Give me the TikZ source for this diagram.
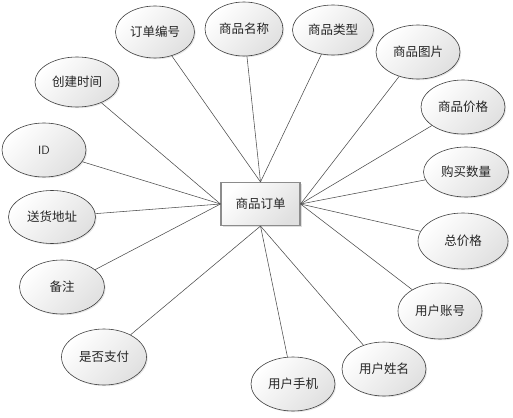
\documentclass[tikz,border=0pt]{standalone}
\usepackage{fontspec}
\newfontfamily\cjk{Noto Sans CJK SC}
\usepackage{tikz}
\usetikzlibrary{shapes,shadows}
\tikzstyle{attr} = [ellipse, draw=black!75, line width=0.6pt, top color=white, bottom color=black!12, shading angle=45, minimum width=84pt, minimum height=54pt, inner sep=0pt, text=black!85, font=\cjk\fontsize{12.5}{14}\selectfont, drop shadow={opacity=0.2, shadow xshift=1.2pt, shadow yshift=-1.2pt}]
\tikzstyle{entity} = [rectangle, draw=black!45, line width=1.1pt, top color=white, bottom color=black!12, shading angle=45, minimum width=79pt, minimum height=43pt, inner sep=0pt, text=black!85, font=\cjk\fontsize{12.5}{14}\selectfont, drop shadow={opacity=0.25, shadow xshift=1.5pt, shadow yshift=-1.5pt}]
\tikzstyle{link} = [draw=black!70, line width=0.55pt]

\begin{document}
\begin{tikzpicture}[x=1pt,y=-1pt]
\useasboundingbox (0,0) rectangle (513,417);

\node[entity] (order) at (260.5,204) {商品订单};

% attributes, clockwise from the top
\node[attr, minimum width=79pt, minimum height=52pt] (orderno) at (155,32) {订单编号};
\node[attr, minimum width=78pt] (gname) at (244,29) {商品名称};
\node[attr, minimum width=81pt, minimum height=50pt] (gtype) at (333,30) {商品类型};
\node[attr] (gpic) at (418,52) {商品图片};
\node[attr] (gprice) at (463,107) {商品价格};
\node[attr, minimum width=85pt, minimum height=50pt] (qty) at (466,172) {购买数量};
\node[attr, minimum width=90pt, minimum height=56pt] (total) at (463,241) {总价格};
\node[attr, minimum height=56pt] (uacc) at (440,311) {用户账号};
\node[attr] (uname) at (384,369) {用户姓名};
\node[attr] (uphone) at (293,384) {用户手机};
\node[attr, minimum width=85pt, minimum height=56pt] (paid) at (104,357) {是否支付};
\node[attr, minimum width=85pt] (remark) at (62,287) {备注};
\node[attr, minimum width=87pt, minimum height=53pt] (addr) at (52,217) {送货地址};
\node[attr, font=\fontfamily{lmss}\selectfont\fontsize{12}{14}\selectfont] (id) at (44,150) {ID};
\node[attr, minimum height=50pt] (ctime) at (77,82) {创建时间};

% links to the entity
\foreach \a in {orderno,gname,gtype}
  \draw[link] (order.north) -- (\a);
\foreach \a in {gpic,gprice,qty,total,uacc}
  \draw[link] (order.east) -- (\a);
\foreach \a in {uname,uphone,paid}
  \draw[link] (order.south) -- (\a);
\foreach \a in {remark,addr,id,ctime}
  \draw[link] (order.west) -- (\a);
\end{tikzpicture}
\end{document}
